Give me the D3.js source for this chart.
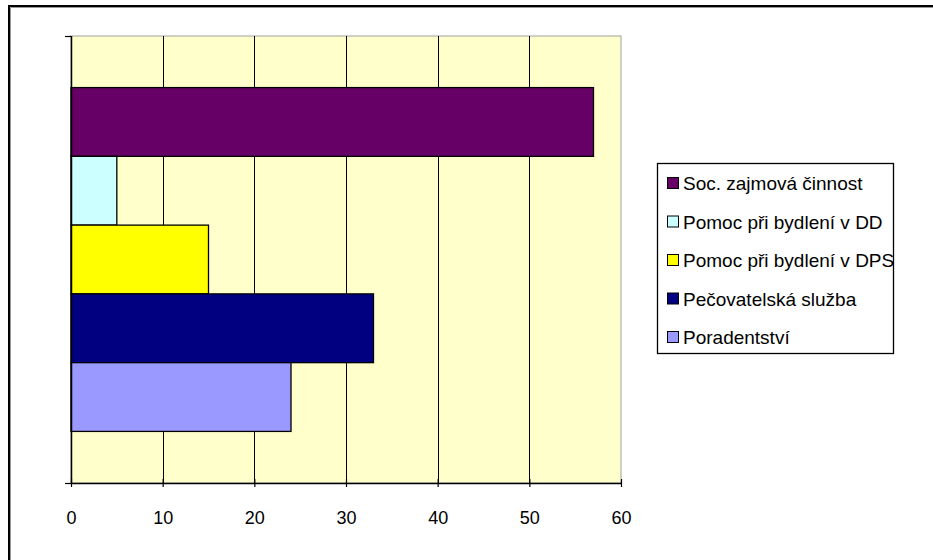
<!DOCTYPE html>
<html><head><meta charset="utf-8">
<script src="https://cdn.jsdelivr.net/npm/d3@7"></script>
<style>html,body{margin:0;background:#fff;overflow:hidden}svg{display:block}</style>
</head><body>
<script>
const series = ["Soc. zajmová činnost","Pomoc při bydlení v DD","Pomoc při bydlení v DPS","Pečovatelská služba","Poradentství"];
const values = [57, 5, 15, 33, 24];
const colors = ["#660066","#CCFFFF","#FFFF00","#000080","#9999FF"];
const xTicks = [0,10,20,30,40,50,60];

(function () {
const W = 933, H = 560;
const svg = d3.select("body").append("svg").attr("width", W).attr("height", H);
const font = "'Liberation Sans', Arial, sans-serif";

// outer frame (top and left edges visible)
svg.append("path").attr("d", `M9,${H} V6 H${W}`).attr("fill", "none").attr("stroke", "#000").attr("stroke-width", 2);
svg.append("path").attr("d", `M10.5,${H} V7.5 H${W}`).attr("fill", "none").attr("stroke", "#999").attr("stroke-width", 1);

const pLeft = 71, pRight = 621, pTop = 36, pBottom = 483;
const x = d3.scaleLinear().domain([0, 60]).range([pLeft, pRight]);
// single category band; bars with 150% gap width
const band = d3.scaleBand().domain(series).range([pTop, pBottom]).paddingInner(0).paddingOuter(0.75);

// plot area
svg.append("rect").attr("x", pLeft).attr("y", pTop).attr("width", pRight - pLeft).attr("height", pBottom - pTop)
  .attr("fill", "#FFFFCC").attr("stroke", "#a0a0a0").attr("stroke-width", 1);

// gridlines
svg.append("g").selectAll("line").data(xTicks.slice(1, -1)).join("line")
  .attr("x1", d => Math.round(x(d)) + 0.5).attr("x2", d => Math.round(x(d)) + 0.5)
  .attr("y1", pTop).attr("y2", pBottom).attr("stroke", "#000").attr("stroke-width", 1);

// bars
svg.append("g").selectAll("rect").data(series).join("rect")
  .attr("x", x(0)).attr("y", d => band(d))
  .attr("width", (d, i) => x(values[i]) - x(0)).attr("height", band.bandwidth())
  .attr("fill", (d, i) => colors[i]).attr("stroke", "#000").attr("stroke-width", 1.3);

// y axis line with ticks
svg.append("line").attr("x1", pLeft + 0.5).attr("x2", pLeft + 0.5).attr("y1", pTop).attr("y2", pBottom)
  .attr("stroke", "#000").attr("stroke-width", 1.5);
[pTop, pBottom].forEach(y => svg.append("line").attr("x1", pLeft - 6).attr("x2", pLeft).attr("y1", y + 0.5).attr("y2", y + 0.5)
  .attr("stroke", "#000").attr("stroke-width", 1.2));

// x axis
const xAxis = d3.axisBottom(x).tickValues(xTicks).tickSize(4).tickSizeOuter(0).tickPadding(28);
const gx = svg.append("g").attr("transform", `translate(0,${pBottom - 4})`).call(xAxis);
gx.select(".domain").attr("transform", "translate(0,4)").attr("stroke", "#000").attr("stroke-width", 1.5);
gx.selectAll(".tick line").attr("y1", 0).attr("y2", 8).attr("stroke", "#000").attr("stroke-width", 1.2);
gx.selectAll(".tick text").attr("font-family", font).attr("font-size", 18).attr("fill", "#000");

// legend
const lg = svg.append("g").attr("transform", "translate(657,163)");
lg.append("rect").attr("x", 0.5).attr("y", 0.5).attr("width", 236).attr("height", 190)
  .attr("fill", "#fff").attr("stroke", "#000").attr("stroke-width", 1.3);
const items = lg.selectAll("g").data(series).join("g")
  .attr("transform", (d, i) => `translate(10,${20 + i * 38.5})`);
items.append("rect").attr("x", 0.5).attr("y", -5.5).attr("width", 11).attr("height", 11)
  .attr("fill", (d, i) => colors[i]).attr("stroke", "#000").attr("stroke-width", 1);
items.append("text").attr("x", 16).attr("y", 7).text(d => d)
  .attr("font-family", font).attr("font-size", 19).attr("fill", "#000");
})();
</script>
</body></html>
